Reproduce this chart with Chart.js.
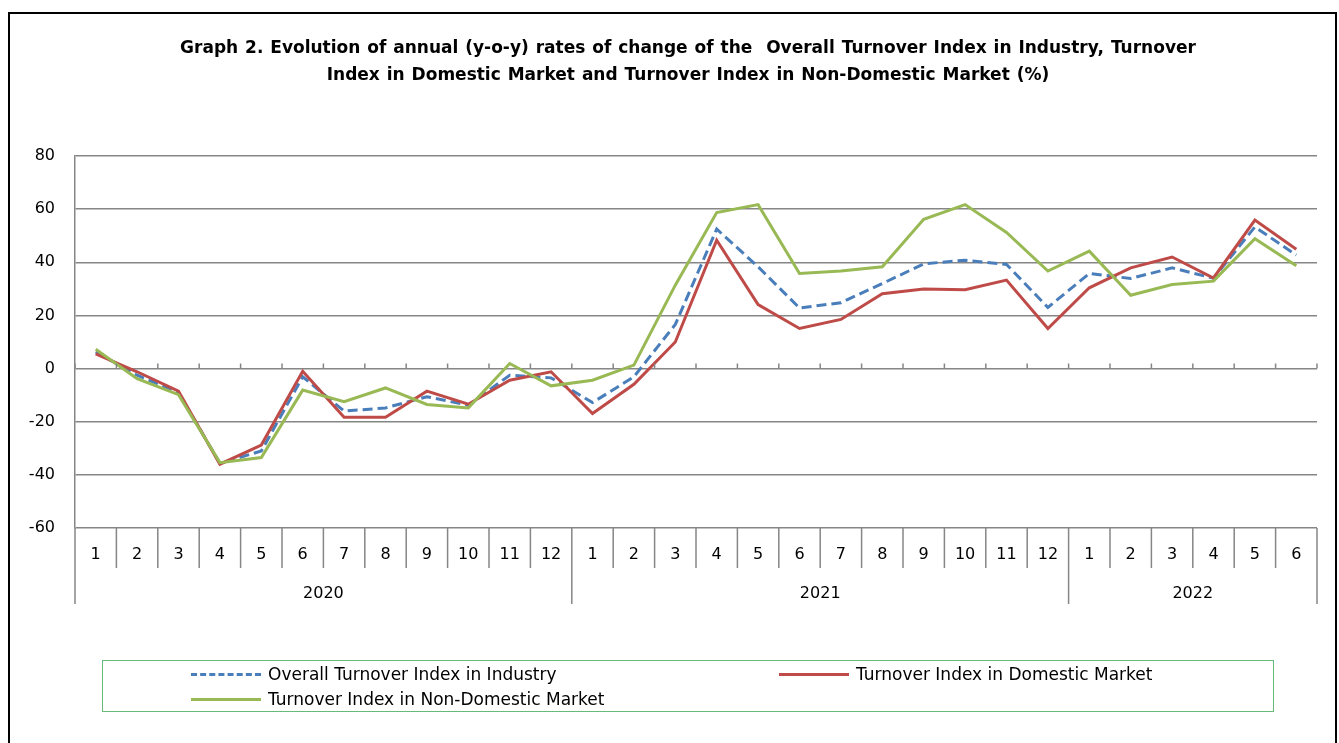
<!DOCTYPE html>
<html>
<head>
<meta charset="utf-8">
<script src="https://cdn.jsdelivr.net/npm/chart.js@4.4.0/dist/chart.umd.min.js"></script>
<style>
  html, body { margin: 0; padding: 0; background: #fff; }
  body { width: 1339px; height: 743px; position: relative; overflow: hidden; font-family: "DejaVu Sans", sans-serif; }
  #frame { position: absolute; left: 8px; top: 12px; width: 1329px; height: 740px; border: 2px solid #000; border-bottom: none; box-sizing: border-box; }
  #title { position: absolute; left: 0; width: 1376px; top: 34px; text-align: center; font-weight: bold; font-size: 17px; line-height: 27px; color: #000; word-spacing: 1px; }
  #wrap { position: absolute; left: 0; top: 0; width: 1339px; height: 743px; }
  #legend { position: absolute; left: 102px; top: 660px; width: 1172px; height: 52px; border: 1.5px solid #66bb7a; box-sizing: border-box; }
  .item { position: absolute; font-size: 17px; color: #000; line-height: 20px; white-space: nowrap; }
  .sw { position: absolute; width: 70px; height: 0; top: 9px; }
  .item span { position: absolute; left: 77px; top: 0; }
</style>
</head>
<body>
<div id="wrap"><canvas id="c" width="1339" height="743"></canvas></div>
<div id="frame"></div>
<div id="title">Graph 2. Evolution of annual (y-o-y) rates of change of the &nbsp;Overall Turnover Index in Industry, Turnover<br>Index in Domestic Market and Turnover Index in Non-Domestic Market (%)</div>
<div id="legend">
  <div class="item" style="left:88px; top:3px;"><div class="sw" style="border-top:3px dashed #4a7ebb;"></div><span>Overall Turnover Index in Industry</span></div>
  <div class="item" style="left:676px; top:3px;"><div class="sw" style="border-top:3px solid #be4b48;"></div><span>Turnover Index in Domestic Market</span></div>
  <div class="item" style="left:88px; top:28px;"><div class="sw" style="border-top:3px solid #98b954;"></div><span>Turnover Index in Non-Domestic Market</span></div>
</div>
<script>
const months = ['1','2','3','4','5','6','7','8','9','10','11','12',
                '1','2','3','4','5','6','7','8','9','10','11','12',
                '1','2','3','4','5','6'];
const years = ['2020', '2021', '2022'];
const yearCounts = [12, 12, 6];
const overall = [6.3, -2.5, -9.0, -35.7, -31.0, -3.1, -16.0, -14.8, -10.6, -13.8, -2.5, -3.5,
                 -12.8, -3.1, 16.6, 52.5, 38.3, 22.8, 24.8, 32.0, 39.4, 40.8, 39.2, 23.0,
                 35.8, 33.9, 37.9, 34.0, 53.3, 42.7];
const domestic = [5.5, -1.2, -8.5, -36.0, -28.8, -1.0, -18.3, -18.3, -8.5, -13.4, -4.4, -1.2,
                  -16.9, -5.9, 10.0, 48.3, 24.1, 15.1, 18.5, 28.2, 29.9, 29.7, 33.3, 15.1,
                  30.4, 37.9, 42.0, 34.1, 55.9, 44.9];
const nonDomestic = [7.3, -3.8, -9.8, -35.4, -33.5, -8.1, -12.5, -7.3, -13.5, -14.8, 1.9, -6.5,
                     -4.4, 1.3, 31.4, 58.7, 61.7, 35.8, 36.7, 38.3, 56.2, 61.7, 51.2, 36.7,
                     44.2, 27.6, 31.6, 32.9, 48.9, 38.7];

const gridColor = '#868686';
const fontFamily = '"DejaVu Sans", sans-serif';

const multiLevel = {
  id: 'multiLevel',
  afterDraw(chart) {
    const ctx = chart.ctx;
    const x = chart.scales.x;
    const y = chart.scales.y;
    const bottom = chart.chartArea.bottom;
    const y0 = y.getPixelForValue(0);
    const yearEdges = [0];
    yearCounts.forEach((n, i) => yearEdges.push(yearEdges[i] + n));
    ctx.save();
    ctx.strokeStyle = gridColor;
    ctx.lineWidth = 1.5;
    for (let i = 0; i <= months.length; i++) {
      const bx = x.getPixelForValue(i - 0.5);
      const isYear = yearEdges.includes(i);
      ctx.beginPath();
      ctx.moveTo(bx, bottom);
      ctx.lineTo(bx, bottom + (isYear ? 76 : 40));
      ctx.moveTo(bx, y0 - 5);
      ctx.lineTo(bx, y0);
      ctx.stroke();
    }
    ctx.fillStyle = '#000';
    ctx.font = '16px ' + fontFamily;
    ctx.textAlign = 'center';
    ctx.textBaseline = 'middle';
    years.forEach((yr, i) => {
      const cx = (x.getPixelForValue(yearEdges[i] - 0.5) + x.getPixelForValue(yearEdges[i + 1] - 0.5)) / 2;
      ctx.fillText(yr, cx, bottom + 66);
    });
    ctx.restore();
  }
};

new Chart(document.getElementById('c'), {
  type: 'line',
  data: {
    labels: months,
    datasets: [
      { label: 'Overall Turnover Index in Industry', data: overall, borderColor: '#4a7ebb', borderWidth: 3, borderDash: [10, 5], order: 3 },
      { label: 'Turnover Index in Domestic Market', data: domestic, borderColor: '#be4b48', borderWidth: 3, order: 2 },
      { label: 'Turnover Index in Non-Domestic Market', data: nonDomestic, borderColor: '#98b954', borderWidth: 3, order: 1 }
    ]
  },
  options: {
    responsive: false,
    animation: false,
    events: [],
    elements: { point: { radius: 0 }, line: { tension: 0, borderJoinStyle: 'miter' } },
    layout: { padding: { left: 0, right: 22, top: 156, bottom: 139 } },
    plugins: { legend: { display: false }, title: { display: false }, tooltip: { enabled: false } },
    scales: {
      x: {
        offset: true,
        grid: { display: false, drawTicks: false },
        border: { display: false },
        ticks: { color: '#000', font: { size: 16, family: fontFamily }, padding: 17, maxRotation: 0, autoSkip: false },
        afterFit(s) { s.height = 76; }
      },
      y: {
        min: -60, max: 80,
        grid: { color: gridColor, lineWidth: 1.5, drawTicks: false },
        border: { color: gridColor, width: 1.5 },
        ticks: { stepSize: 20, color: '#000', font: { size: 16, family: fontFamily }, padding: 20 },
        afterFit(s) { s.width = 75; }
      }
    }
  },
  plugins: [multiLevel]
});
</script>
</body>
</html>
